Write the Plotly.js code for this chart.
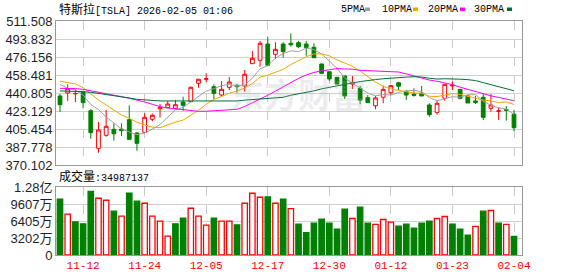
<!DOCTYPE html>
<html><head><meta charset="utf-8">
<script src="https://cdn.plot.ly/plotly-3.0.1.min.js"></script>
<style>html,body{margin:0;padding:0;background:#fff;}#chart{width:578px;height:276px;}</style>
</head><body><div id="chart"></div>
<script>
// ---- data ----
const dates = ["11-07","11-10","11-11","11-12","11-13","11-14","11-17","11-18","11-19","11-20",
"11-21","11-24","11-25","11-26","11-28","12-01","12-02","12-03","12-04","12-05",
"12-08","12-09","12-10","12-11","12-12","12-15","12-16","12-17","12-18","12-19",
"12-22","12-23","12-24","12-26","12-29","12-30","12-31","01-02","01-05","01-06",
"01-07","01-08","01-09","01-12","01-13","01-14","01-15","01-16","01-20","01-21",
"01-22","01-23","01-26","01-27","01-28","01-29","01-30","02-02","02-03","02-04"];
const open = [437.9,440.8,440.0,442.1,423.4,386.5,399.3,405.1,405.4,414.6,
401.5,402.2,415.0,425.3,426.4,425.8,431.9,432.3,450.3,454.3,
447.0,438.8,446.4,448.4,447.7,469.6,472.9,488.9,478.8,488.9,
489.6,490.2,488.9,485.7,469.3,461.7,456.2,457.5,449.6,445.4,
436.2,428.3,436.6,441.1,450.9,442.1,439.8,440.5,429.0,421.8,
435.6,447.7,444.4,437.9,433.0,436.6,425.8,422.8,424.5,419.9];
const high = [439.8,449.3,444.4,443.1,424.8,412.3,424.1,411.0,411.0,428.7,
402.2,420.9,420.5,430.0,433.0,433.9,437.2,447.0,454.6,460.1,
449.3,452.6,456.5,449.3,463.4,482.0,491.9,496.1,490.6,490.6,
499.4,491.9,491.9,489.6,469.6,461.9,456.4,457.7,457.5,448.0,
438.8,437.9,448.0,448.7,451.9,443.7,445.4,447.7,430.7,433.9,
449.5,451.9,444.6,438.8,437.9,439.8,439.8,426.8,428.0,424.1];
const low = [422.1,432.9,432.0,425.8,395.9,382.2,397.9,394.0,398.6,395.0,
384.1,401.5,413.0,416.7,426.0,424.8,423.4,432.0,446.0,451.6,
434.9,437.8,443.7,441.1,442.1,469.3,466.6,467.0,474.2,475.5,
486.3,484.7,477.4,474.9,460.1,452.6,449.4,434.9,444.7,429.7,
431.1,424.8,430.7,438.8,443.7,433.9,437.2,437.7,417.5,419.5,
433.2,443.7,434.6,431.0,430.0,414.3,422.4,414.3,413.6,403.5];
const close = [429.3,445.0,440.3,431.3,401.8,404.5,408.1,400.8,403.8,395.3,
391.4,416.9,418.9,426.4,430.0,429.3,428.7,446.4,454.3,454.9,
440.5,444.4,451.6,447.0,459.2,474.9,489.6,468.0,483.7,481.4,
488.2,486.3,485.5,475.5,460.1,454.6,449.6,437.9,450.9,433.9,
431.3,435.9,444.4,448.0,447.5,438.8,438.5,437.9,419.5,430.7,
449.3,448.4,435.6,431.0,431.6,416.9,429.0,423.2,423.8,406.7];
// volume in millions of shares
const volumeM = [105.0,76.9,62.5,58.8,120.0,106.9,103.1,82.5,73.1,116.3,
101.3,97.5,73.1,63.8,35.6,58.8,69.4,88.1,73.1,56.3,
69.4,63.8,63.8,56.8,97.5,116.3,108.8,109.4,97.5,105.0,
87.5,58.1,41.9,60.0,67.5,60.0,48.8,86.3,68.8,90.0,
60.0,57.5,66.9,61.9,54.4,58.1,50.6,60.0,63.8,68.8,
72.5,58.1,48.8,37.5,53.8,82.5,83.8,60.0,57.5,34.987137];
const ma5 = [449.3,445.4,443.8,438.8,429.5,424.6,417.2,411.0,405.5,402.5,
399.9,401.6,405.3,409.8,416.7,424.3,426.7,432.2,437.7,442.7,
445.0,448.1,449.1,447.7,448.5,455.4,464.5,467.7,475.1,479.5,
482.2,481.5,485.0,483.4,479.1,472.4,465.1,455.5,450.6,445.4,
440.7,438.0,439.3,438.7,441.4,442.9,443.4,442.1,436.4,433.1,
435.2,437.2,436.7,439.0,439.2,432.7,428.8,426.3,424.9,419.9];
const ma10 = [452.3,451.3,449.7,446.1,439.8,434.0,429.0,424.1,419.2,416.0,
412.2,409.4,407.3,406.8,409.6,412.1,414.2,418.7,423.8,429.7,
434.6,437.4,440.7,442.7,445.6,450.2,456.3,458.4,461.4,464.0,
468.8,473.0,476.4,479.2,479.3,477.3,473.3,470.3,467.0,462.3,
456.6,451.5,447.4,444.7,443.4,441.8,440.7,440.7,437.6,437.3,
439.1,440.3,439.4,437.7,436.1,433.9,433.0,431.5,432.0,429.6];
const ma20 = [445.4,445.4,445.1,444.4,443.1,441.8,440.5,438.9,437.2,435.6,
434.0,432.0,429.7,427.4,426.1,425.1,424.1,423.5,422.8,422.9,
423.4,423.4,424.0,424.8,427.6,431.1,435.2,438.6,442.6,446.9,
451.7,455.2,458.5,461.0,462.5,463.7,464.8,464.4,464.2,463.1,
462.7,462.3,461.9,461.9,461.4,459.6,457.5,456.0,453.5,452.3,
451.0,449.0,446.5,444.3,442.0,439.8,438.0,436.5,435.0,433.2];
const ma30 = [442.8,442.8,442.5,442.1,441.5,440.5,439.5,438.5,437.2,435.9,
434.6,434.0,433.3,433.0,433.0,433.0,433.0,433.0,433.0,432.8,
432.3,432.3,432.3,433.0,433.8,434.4,434.9,435.4,436.0,436.6,
438.6,439.9,441.4,442.9,444.9,446.5,447.9,449.1,450.7,452.0,
453.3,454.0,454.8,455.5,456.1,456.4,456.8,456.5,455.3,454.5,
454.8,454.9,454.4,453.9,453.0,451.0,449.0,447.5,445.5,443.0];
const priceTicks = [370.102,387.778,405.454,423.129,440.805,458.481,476.156,493.832,511.508];
const volTicks = [0,32.02,64.05,96.07,128.09];
const volTickText = ["0","3202万","6405万","9607万","1.28亿"];
const dateTickIdx = [3,11,19,27,35,43,51,59];
const maNames = ["5PMA","10PMA","20PMA","30PMA"];
const maColors = ["#a0a0a0","#f5a500","#ff00ff","#006f35"];
const titleName = "特斯拉", titleCode = "[TSLA]", titleTime = "2026-02-05 01:06";

// ---- build ----
const x = dates.map((d,i)=>i);
const RED = "#ff0000", GREEN = "#008000";
const up = close.map((c,i)=> i===0 ? c>open[i] : c>close[i-1]);
const vol = volumeM.map(v=>v*1e6);

const traces = [];
traces.push({type:'candlestick', x:x, open:open, high:high, low:low, close:close,
  xaxis:'x', yaxis:'y', hoverinfo:'skip',
  increasing:{line:{color:RED,width:1}, fillcolor:'#ffffff'},
  decreasing:{line:{color:GREEN,width:1}, fillcolor:GREEN}});
[ma5,ma10,ma20,ma30].forEach((m,k)=>{
  traces.push({type:'scatter', mode:'lines', x:x, y:m, name:maNames[k], xaxis:'x', yaxis:'y',
    line:{color:maColors[k], width:1}, hoverinfo:'skip'});
});
traces.push({type:'bar', x:x, y:vol, xaxis:'x2', yaxis:'y2', width:0.7, hoverinfo:'skip',
  marker:{color:up.map(u=>u?'#ffffff':GREEN), line:{color:up.map(u=>u?RED:GREEN), width:1.3}}});

const L=56, R=522, T=21, B=255, H=B-T, W=R-L;
const px = v => (v-L)/W, py = v => (B-v)/H;
const xr = [-0.52, 60.04];
const mono = "Liberation Mono, Noto Sans CJK SC, monospace";
const sans = "Liberation Sans, Arial, Noto Sans CJK SC, sans-serif";

const annotations = [
  {xref:'paper', yref:'paper', x:px(57), y:py(10), xanchor:'left', yanchor:'middle', showarrow:false,
   text:'<span style="font-size:12px">'+titleName+'</span>'+titleCode+' '+titleTime,
   font:{family:mono, size:10, color:'#000'}},
  {xref:'paper', yref:'paper', x:px(57), y:py(177), xanchor:'left', yanchor:'middle', showarrow:false,
   text:'<span style="font-size:12px">成交量</span>:'+Math.round(vol[vol.length-1]),
   font:{family:mono, size:10, color:'#000'}},
  {xref:'paper', yref:'paper', x:px(298), y:py(93), xanchor:'center', yanchor:'middle', showarrow:false,
   text:'<b>东方财富</b>', font:{family:'Noto Sans CJK SC', size:34, color:'rgba(170,170,185,0.22)'}}
];
const legX = [339,380,426,472], sqX = [365,413,460,507];
const shapes = [];
maNames.forEach((n,k)=>{
  annotations.push({xref:'paper', yref:'paper', x:px(legX[k]), y:py(10), xanchor:'left', yanchor:'middle',
    showarrow:false, text:n, font:{family:mono, size:10, color:'#000'}});
  shapes.push({type:'rect', xref:'paper', yref:'paper', x0:px(sqX[k]), x1:px(sqX[k]+5), y0:py(11), y1:py(7.5),
    fillcolor:maColors[k], line:{width:0}});
});

const gridX = {showgrid:true, gridcolor:'#c8c8c8', griddash:'dash', gridwidth:1, zeroline:false,
  showline:true, mirror:true, linecolor:'#999', linewidth:1, ticks:'', range:xr, fixedrange:true,
  tickvals:dateTickIdx, ticktext:dateTickIdx.map(i=>dates[i])};
const layout = {
  width:578, height:276, margin:{l:L, r:578-R, t:T, b:276-B}, showlegend:false,
  paper_bgcolor:'#fff', plot_bgcolor:'#fff',
  xaxis:Object.assign({}, gridX, {anchor:'y', showticklabels:false, rangeslider:{visible:false}}),
  xaxis2:Object.assign({}, gridX, {anchor:'y2', showticklabels:true,
    tickfont:{family:mono, size:11, color:RED}}),
  yaxis:{domain:[py(165),1], range:[priceTicks[0], priceTicks[priceTicks.length-1]], tickvals:priceTicks,
    ticktext:priceTicks.map(v=>v.toFixed(3)), showgrid:true, gridcolor:'#d0d0d0', zeroline:false,
    showline:true, mirror:true, linecolor:'#999', ticks:'', tickfont:{family:sans, size:13, color:'#1e1e28'}},
  yaxis2:{domain:[0,py(187)], range:[0, volTicks[volTicks.length-1]*1e6], tickvals:volTicks.map(v=>v*1e6),
    ticktext:volTickText, showgrid:true, gridcolor:'#d0d0d0', zeroline:false,
    showline:true, mirror:true, linecolor:'#999', ticks:'', tickfont:{family:sans, size:13, color:'#1e1e28'}},
  annotations:annotations, shapes:shapes
};
Plotly.newPlot('chart', traces, layout, {staticPlot:true, displayModeBar:false});
</script></body></html>
